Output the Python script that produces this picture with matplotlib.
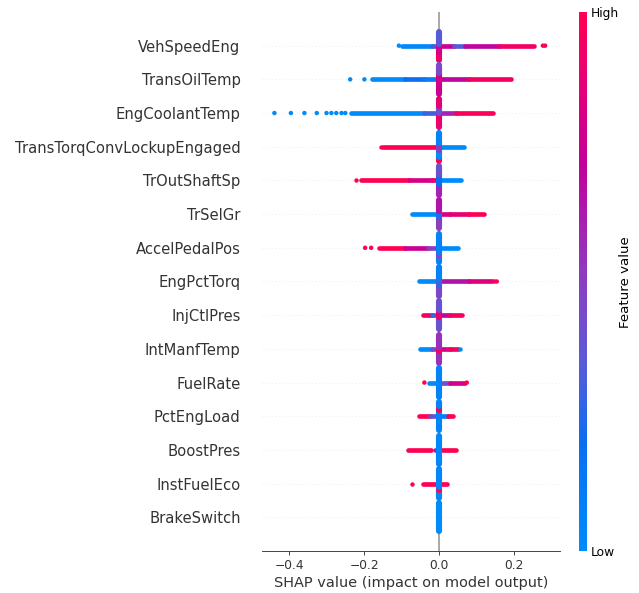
import matplotlib
matplotlib.use("Agg")
import matplotlib.pyplot as plt
from matplotlib.collections import LineCollection
from matplotlib.colors import LinearSegmentedColormap
import numpy as np

# feature names, top row first
features = ['VehSpeedEng', 'TransOilTemp', 'EngCoolantTemp', 'TransTorqConvLockupEngaged',
            'TrOutShaftSp', 'TrSelGr', 'AccelPedalPos', 'EngPctTorq', 'InjCtlPres',
            'IntManfTemp', 'FuelRate', 'PctEngLoad', 'BoostPres', 'InstFuelEco', 'BrakeSwitch']

# dense horizontal runs of dots: (shap start, shap end, feature value 0..1)
band_runs = [
    [(-0.100, -0.020, 0.02), (-0.020, 0.0, 0.30), (0.007, 0.040, 0.75), (0.040, 0.070, 0.35),
     (0.070, 0.160, 0.70), (0.160, 0.252, 0.93)],
    [(-0.178, -0.090, 0.0), (-0.090, -0.040, 0.20), (-0.040, -0.005, 0.10), (0.007, 0.080, 0.70),
     (0.080, 0.192, 0.96)],
    [(-0.235, -0.040, 0.0), (-0.040, -0.010, 0.30), (0.007, 0.045, 0.60), (0.045, 0.145, 0.97)],
    [(-0.150, -0.005, 1.0), (0.005, 0.067, 0.0)],
    [(-0.208, -0.080, 1.0), (-0.080, -0.020, 0.80), (-0.020, 0.0, 0.92), (0.005, 0.059, 0.0)],
    [(-0.071, -0.005, 0.0), (0.007, 0.030, 0.80), (0.030, 0.080, 0.87), (0.080, 0.120, 1.0)],
    [(-0.160, -0.090, 1.0), (-0.090, -0.030, 0.75), (-0.030, -0.005, 0.50), (0.005, 0.050, 0.0)],
    [(-0.053, -0.005, 0.0), (0.007, 0.080, 0.65), (0.080, 0.140, 0.85)],
    [(-0.044, -0.020, 0.95), (-0.020, 0.0, 0.30), (0.005, 0.030, 0.70), (0.030, 0.060, 0.95)],
    [(-0.051, -0.020, 0.0), (-0.020, -0.005, 0.40), (0.007, 0.030, 0.80), (0.030, 0.050, 0.95)],
    [(-0.028, -0.005, 0.0), (0.005, 0.030, 0.40), (0.030, 0.068, 0.80)],
    [(-0.053, -0.025, 1.0), (-0.025, -0.005, 0.40), (0.005, 0.025, 0.10), (0.025, 0.036, 1.0)],
    [(-0.084, -0.021, 1.0), (-0.010, 0.0, 0.60), (0.007, 0.044, 1.0)],
    [(-0.042, 0.020, 1.0)],
    [],
]

# single outlying dots: (shap value, feature value)
outliers = [
    [(-0.107, 0.0), (0.277, 1.0), (0.283, 1.0)],
    [(-0.237, 0.0), (-0.199, 0.0)],
    [(-0.439, 0.0), (-0.395, 0.0), (-0.359, 0.0), (-0.326, 0.0), (-0.300, 0.0),
     (-0.287, 0.0), (-0.274, 0.0), (-0.260, 0.0), (-0.250, 0.0)],
    [(-0.155, 1.0)],
    [(-0.222, 1.0)],
    [],
    [(-0.197, 1.0), (-0.181, 1.0)],
    [(0.148, 1.0), (0.154, 1.0)],
    [],
    [(0.056, 0.0)],
    [(-0.039, 1.0), (0.074, 1.0)],
    [],
    [],
    [(-0.071, 1.0)],
    [],
]

# vertical pile of points around shap = 0: (row offset start, row offset end, feature value)
piles = [
    [(-0.42, -0.20, 0.90), (-0.20, 0.05, 0.80), (0.05, 0.42, 0.35)],
    [(-0.42, -0.10, 0.75), (-0.10, 0.20, 0.80), (0.20, 0.42, 0.45)],
    [(-0.42, 0.0, 0.90), (0.0, 0.20, 0.40), (0.20, 0.42, 0.88)],
    [(-0.42, -0.30, 1.0), (-0.30, -0.10, 0.0), (-0.10, 0.10, 0.50), (0.10, 0.42, 0.05)],
    [(-0.42, -0.10, 0.60), (-0.10, 0.15, 0.20), (0.15, 0.42, 0.40)],
    [(-0.42, -0.10, 0.50), (-0.10, 0.10, 0.25), (0.10, 0.42, 0.65)],
    [(-0.42, -0.25, 0.05), (-0.25, -0.12, 0.45), (-0.12, 0.42, 0.05)],
    [(-0.42, -0.10, 0.45), (-0.10, 0.10, 0.30), (0.10, 0.42, 0.05)],
    [(-0.42, -0.05, 0.40), (-0.05, 0.15, 0.90), (0.15, 0.42, 0.40)],
    [(-0.42, -0.05, 0.55), (-0.05, 0.05, 0.95), (0.05, 0.42, 0.55)],
    [(-0.42, 0.42, 0.05)],
    [(-0.42, 0.18, 0.05), (0.18, 0.30, 1.0), (0.30, 0.42, 0.05)],
    [(-0.42, 0.42, 0.03)],
    [(-0.42, -0.20, 0.03), (-0.20, -0.10, 1.0), (-0.10, 0.42, 0.03)],
    [(-0.42, 0.42, 0.0)],
]

# shap style blue -> purple -> red
red_blue = LinearSegmentedColormap.from_list('red_blue', [
    (0.0, '#008bfb'), (0.2, '#0a6ff0'), (0.35, '#5a5ad8'), (0.5, '#8a3fc0'),
    (0.62, '#aa1caf'), (0.72, '#c2009a'), (0.86, '#e3007a'), (1.0, '#ff0052')])

axis_color = '#333333'

fig = plt.figure(figsize=(639 / 80, 593 / 80), dpi=80)
ax = fig.add_axes([0.4096, 0.0708, 0.4668, 0.909])

n = len(features)
for i, name in enumerate(features):
    row = n - 1 - i
    ax.axhline(row, color='#cccccc', lw=0.5, dashes=(1, 5), zorder=-1)

    # the long horizontal run of dots
    segs = [[(x0, row), (x1, row)] for x0, x1, fv in band_runs[i]]
    if segs:
        lc = LineCollection(segs, colors=[red_blue(fv) for _, _, fv in band_runs[i]],
                            linewidths=4.2, capstyle='round', zorder=2)
        ax.add_collection(lc)

    # the stack of points sitting near zero
    segs = [[(0, row + d0), (0, row + d1)] for d0, d1, fv in piles[i]]
    lc = LineCollection(segs, colors=[red_blue(fv) for _, _, fv in piles[i]],
                        linewidths=5.5, capstyle='round', zorder=3)
    ax.add_collection(lc)

    if outliers[i]:
        xs = [p[0] for p in outliers[i]]
        cs = [p[1] for p in outliers[i]]
        ax.scatter(xs, [row] * len(xs), c=cs, cmap=red_blue, vmin=0, vmax=1,
                   s=16, linewidth=0, zorder=4)

ax.axvline(0, color='#999999', zorder=-1)

ax.set_xlim(-0.4728, 0.3227)
ax.set_ylim(-1, n)
ax.set_yticks(range(n))
ax.set_yticklabels(features[::-1], fontsize=13.3)
ax.set_xticks([-0.4, -0.2, 0.0, 0.2])
ax.tick_params('y', length=0, pad=19)
ax.tick_params('x', labelsize=11)
ax.tick_params(color=axis_color, labelcolor=axis_color)
ax.xaxis.set_ticks_position('bottom')
ax.spines['right'].set_visible(False)
ax.spines['top'].set_visible(False)
ax.spines['left'].set_visible(False)
ax.spines['bottom'].set_color(axis_color)
ax.set_xlabel('SHAP value (impact on model output)', fontsize=13, color=axis_color)

# colour bar on the right
cax = fig.add_axes([0.906, 0.071, 0.0125, 0.908])
m = plt.cm.ScalarMappable(cmap=red_blue)
m.set_array([0, 1])
cb = fig.colorbar(m, cax=cax, ticks=[0, 1])
cb.set_ticklabels(['Low', 'High'])
cb.set_label('Feature value', size=12, labelpad=0)
cb.ax.tick_params(labelsize=11, length=0)
cb.outline.set_visible(False)

plt.savefig('out.png', dpi=80)
plt.close()
